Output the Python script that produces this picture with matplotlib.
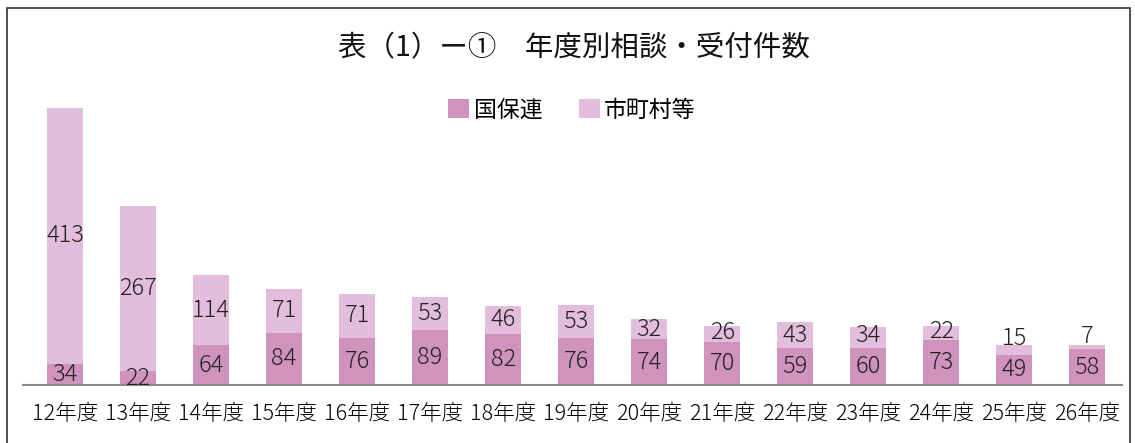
import matplotlib
matplotlib.use("Agg")
from matplotlib import pyplot as plt
from matplotlib.patches import Rectangle

plt.rcParams['font.family'] = ['Noto Sans CJK JP', 'DejaVu Sans']

years = ['12年度', '13年度', '14年度', '15年度', '16年度', '17年度', '18年度', '19年度',
         '20年度', '21年度', '22年度', '23年度', '24年度', '25年度', '26年度']
kokuho = [34, 22, 64, 84, 76, 89, 82, 76, 74, 70, 59, 60, 73, 49, 58]
shichoson = [413, 267, 114, 71, 71, 53, 46, 53, 32, 26, 43, 34, 22, 15, 7]

c_dark = '#CF93BE'
c_light = '#E2BEDC'

fig = plt.figure(figsize=(11.35, 4.43), dpi=100)
W, H = 1135, 443

# outer frame
fig.patches.append(Rectangle((7 / W, -0.05), (1130 - 7) / W, 1.05 - 8 / H,
                             transform=fig.transFigure, fill=False,
                             edgecolor='#333333', linewidth=1.2))

ax = fig.add_axes([23 / W, 1 - 385 / H, (1122 - 23) / W, (385 - 108) / H])
x = range(len(years))
ax.bar(x, kokuho, width=0.49, color=c_dark, label='国保連')
ax.bar(x, shichoson, width=0.49, bottom=kokuho, color=c_light, label='市町村等')

ax.set_xlim(-0.575, 14.475)
ax.set_ylim(0, 447)
for s in ['top', 'right', 'left']:
    ax.spines[s].set_visible(False)
ax.spines['bottom'].set_color('#888888')
ax.spines['bottom'].set_linewidth(1.5)
ax.set_yticks([])
ax.set_xticks(list(x))
ax.set_xticklabels(years, fontsize=15.5, fontweight='light')
ax.tick_params(axis='x', length=0, pad=13)

for i, (a, b) in enumerate(zip(kokuho, shichoson)):
    ya = a / 2
    yb = max(a + b / 2, ya + 50)
    ax.text(i, ya, str(a), ha='center', va='center', fontsize=17,
            fontweight='light', color='#222222')
    ax.text(i, yb, str(b), ha='center', va='center', fontsize=17,
            fontweight='light', color='#222222')

fig.text(574 / W, 1 - 48 / H, '表（1）ー①　年度別相談・受付件数', ha='center', va='center',
         fontsize=20.5, color='#111111')
fig.legend(loc='center', bbox_to_anchor=(572 / W, 1 - 110 / H), ncol=2, frameon=False,
           fontsize=16.5, handlelength=0.9, handleheight=0.9, handletextpad=0.2,
           columnspacing=1.6)

fig.savefig('out.png', dpi=100)
